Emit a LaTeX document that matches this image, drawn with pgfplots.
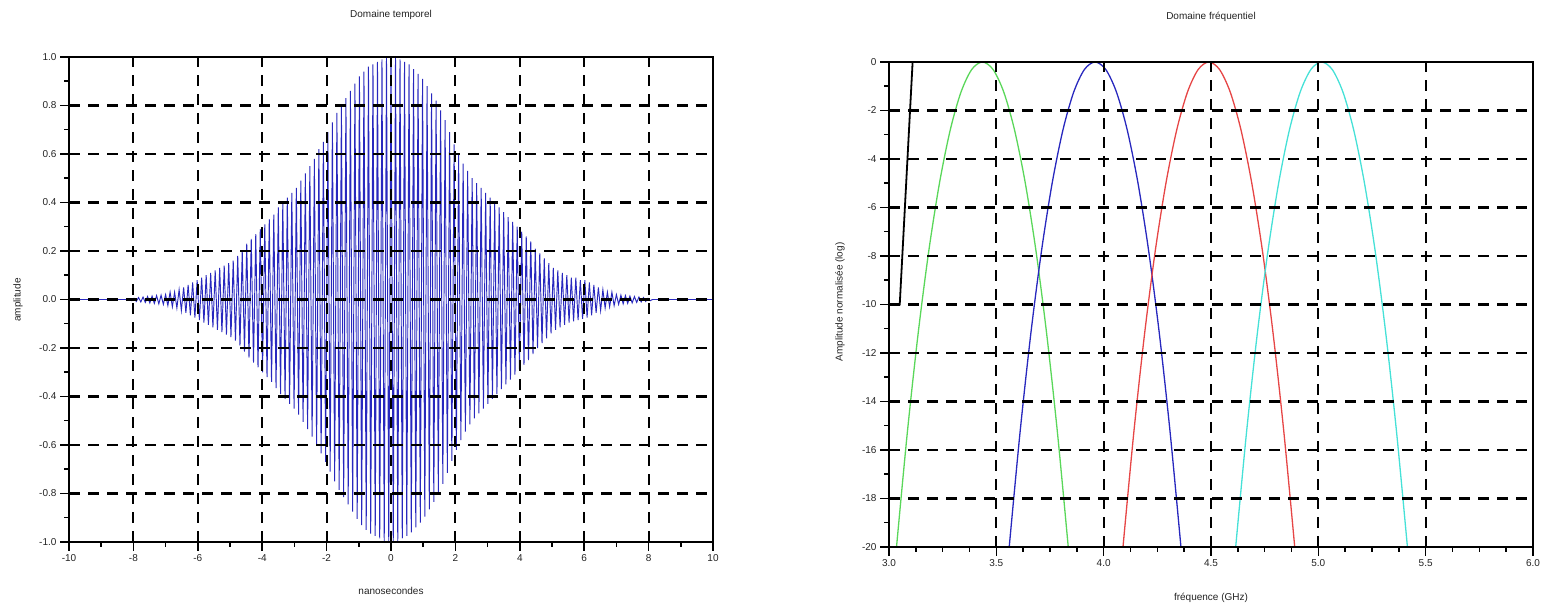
\documentclass[border=0pt]{standalone}
\usepackage{fontspec}
\setmainfont{Liberation Sans}
\usepackage{pgfplots}
\usepackage{pgfplotstable}
\pgfplotsset{compat=1.18}

\definecolor{sigblue}{RGB}{40,40,190}
\definecolor{cgreen}{RGB}{90,215,90}
\definecolor{cblue}{RGB}{40,40,190}
\definecolor{cred}{RGB}{230,70,70}
\definecolor{ccyan}{RGB}{70,225,215}
\definecolor{txt}{RGB}{35,35,35}

\pgfplotstableread{
t y
-10.00 0
-8.12 0
-8.05 -0.005
-7.98 0.005
-7.91 -0.008
-7.84 0.008
-7.77 -0.01
-7.70 0.01
-7.63 -0.012
-7.56 0.012
-7.49 -0.014
-7.42 0.014
-7.35 -0.016
-7.28 0.016
-7.21 -0.018
-7.14 0.018
-7.07 -0.02
-7.00 0.02
-6.93 -0.025
-6.86 0.03
-6.79 -0.03
-6.72 0.03
-6.65 -0.035
-6.58 0.04
-6.51 -0.045
-6.44 0.05
-6.37 -0.055
-6.30 0.06
-6.23 -0.065
-6.16 0.07
-6.09 -0.075
-6.02 0.08
-5.95 -0.085
-5.88 0.09
-5.81 -0.095
-5.74 0.10
-5.67 -0.105
-5.60 0.11
-5.53 -0.115
-5.46 0.12
-5.39 -0.125
-5.32 0.13
-5.25 -0.135
-5.18 0.14
-5.11 -0.145
-5.04 0.15
-4.97 -0.155
-4.90 0.16
-4.83 -0.17
-4.76 0.18
-4.69 -0.19
-4.62 0.20
-4.55 -0.215
-4.48 0.23
-4.41 -0.24
-4.34 0.25
-4.27 -0.26
-4.20 0.27
-4.13 -0.28
-4.06 0.29
-3.99 -0.30
-3.92 0.31
-3.85 -0.32
-3.78 0.33
-3.71 -0.34
-3.64 0.35
-3.57 -0.365
-3.50 0.38
-3.43 -0.39
-3.36 0.40
-3.29 -0.41
-3.22 0.42
-3.15 -0.43
-3.08 0.44
-3.01 -0.45
-2.94 0.46
-2.87 -0.475
-2.80 0.49
-2.73 -0.505
-2.66 0.52
-2.59 -0.535
-2.52 0.55
-2.45 -0.565
-2.38 0.58
-2.31 -0.60
-2.24 0.62
-2.17 -0.635
-2.10 0.65
-2.03 -0.67
-1.96 0.69
-1.89 -0.71
-1.82 0.73
-1.75 -0.75
-1.68 0.77
-1.61 -0.785
-1.54 0.80
-1.47 -0.815
-1.40 0.83
-1.33 -0.845
-1.26 0.86
-1.19 -0.875
-1.12 0.89
-1.05 -0.905
-0.98 0.92
-0.91 -0.93
-0.84 0.94
-0.77 -0.95
-0.70 0.96
-0.63 -0.965
-0.56 0.97
-0.49 -0.975
-0.42 0.98
-0.35 -0.985
-0.28 0.99
-0.21 -0.995
-0.14 1.00
-0.07 -1.00
0.00 1.00
0.07 -1.00
0.14 1.00
0.21 -0.995
0.28 0.99
0.35 -0.985
0.42 0.98
0.49 -0.975
0.56 0.97
0.63 -0.96
0.70 0.95
0.77 -0.94
0.84 0.93
0.91 -0.92
0.98 0.91
1.05 -0.895
1.12 0.88
1.19 -0.865
1.26 0.85
1.33 -0.835
1.40 0.82
1.47 -0.80
1.54 0.78
1.61 -0.76
1.68 0.74
1.75 -0.715
1.82 0.69
1.89 -0.665
1.96 0.64
2.03 -0.62
2.10 0.60
2.17 -0.58
2.24 0.56
2.31 -0.545
2.38 0.53
2.45 -0.515
2.52 0.50
2.59 -0.49
2.66 0.48
2.73 -0.47
2.80 0.46
2.87 -0.45
2.94 0.44
3.01 -0.43
3.08 0.42
3.15 -0.41
3.22 0.40
3.29 -0.39
3.36 0.38
3.43 -0.37
3.50 0.36
3.57 -0.35
3.64 0.34
3.71 -0.33
3.78 0.32
3.85 -0.31
3.92 0.30
3.99 -0.29
4.06 0.28
4.13 -0.27
4.20 0.26
4.27 -0.25
4.34 0.24
4.41 -0.225
4.48 0.21
4.55 -0.20
4.62 0.19
4.69 -0.18
4.76 0.17
4.83 -0.16
4.90 0.15
4.97 -0.14
5.04 0.13
5.11 -0.125
5.18 0.12
5.25 -0.115
5.32 0.11
5.39 -0.105
5.46 0.10
5.53 -0.095
5.60 0.09
5.67 -0.09
5.74 0.09
5.81 -0.085
5.88 0.08
5.95 -0.08
6.02 0.08
6.09 -0.075
6.16 0.07
6.23 -0.065
6.30 0.06
6.37 -0.055
6.44 0.05
6.51 -0.045
6.58 0.04
6.65 -0.035
6.72 0.03
6.79 -0.03
6.86 0.03
6.93 -0.025
7.00 0.02
7.07 -0.02
7.14 0.018
7.21 -0.018
7.28 0.016
7.35 -0.016
7.42 0.014
7.49 -0.014
7.56 0.012
7.63 -0.012
7.70 0.01
7.77 -0.01
7.84 0.008
7.91 -0.008
7.98 0.005
8.05 -0.005
8.12 0
10.00 0
}\signal

\pgfplotstableread{
f g
3.035 -20
3.085 -15.3125
3.135 -11.25
3.185 -7.8125
3.235 -5
3.285 -2.8125
3.335 -1.25
3.385 -0.3125
3.435 0
3.485 -0.3125
3.535 -1.25
3.585 -2.8125
3.635 -5
3.685 -7.8125
3.735 -11.25
3.785 -15.3125
3.835 -20
}\green

\pgfplotstableread{
f g
3.56 -20
3.61 -15.3125
3.66 -11.25
3.71 -7.8125
3.76 -5
3.81 -2.8125
3.86 -1.25
3.91 -0.3125
3.96 0
4.01 -0.3125
4.06 -1.25
4.11 -2.8125
4.16 -5
4.21 -7.8125
4.26 -11.25
4.31 -15.3125
4.36 -20
}\blue

\pgfplotstableread{
f g
4.09 -20
4.14 -15.3125
4.19 -11.25
4.24 -7.8125
4.29 -5
4.34 -2.8125
4.39 -1.25
4.44 -0.3125
4.49 0
4.54 -0.3125
4.59 -1.25
4.64 -2.8125
4.69 -5
4.74 -7.8125
4.79 -11.25
4.84 -15.3125
4.89 -20
}\red

\pgfplotstableread{
f g
4.615 -20
4.665 -15.3125
4.715 -11.25
4.765 -7.8125
4.815 -5
4.865 -2.8125
4.915 -1.25
4.965 -0.3125
5.015 0
5.065 -0.3125
5.115 -1.25
5.165 -2.8125
5.215 -5
5.265 -7.8125
5.315 -11.25
5.365 -15.3125
5.415 -20
}\cyan

\pgfplotstableread{
f g
3.00 -10
3.05 -10
3.11 0
6.00 0
}\black

\pgfplotsset{
  myax/.style={
    scale only axis, width=644pt, height=485pt,
    axis line style={line width=1.8pt, black},
    tick style={line width=1.5pt, black},
    tick align=outside, tick pos=left,
    major tick length=9pt, minor tick length=5pt,
    grid=major,
    major grid style={black, line width=2.1pt, dash pattern=on 11pt off 8pt},
    axis on top, clip=false,
    tick label style={font=\fontsize{10}{11}\selectfont, text=txt},
    /pgf/number format/assume math mode=true,
  }
}

\begin{document}
\begin{tikzpicture}
\useasboundingbox (0,0) rectangle (1543pt,607pt);

\begin{axis}[myax, at={(69pt,65pt)}, anchor=south west,
  xmin=-10, xmax=10, ymin=-1, ymax=1,
  xtick={-10,-8,-6,-4,-2,0,2,4,6,8,10},
  ytick={-1,-0.8,-0.6,-0.4,-0.2,0,0.2,0.4,0.6,0.8,1},
  minor x tick num=1, minor y tick num=1,
  yticklabel style={/pgf/number format/.cd, fixed, fixed zerofill, precision=1},
]
\addplot[sigblue, line width=0.95pt] table[x=t, y=y] {\signal};
\end{axis}

\begin{axis}[myax, at={(889pt,60pt)}, anchor=south west,
  xmin=3, xmax=6, ymin=-20, ymax=0,
  xtick={3,3.5,4,4.5,5,5.5,6},
  ytick={-20,-18,-16,-14,-12,-10,-8,-6,-4,-2,0},
  minor x tick num=3, minor y tick num=1,
  xticklabel style={/pgf/number format/.cd, fixed, fixed zerofill, precision=1},
]
\addplot[cgreen, line width=1.3pt, smooth] table[x=f, y=g] {\green};
\addplot[cblue, line width=1.3pt, smooth] table[x=f, y=g] {\blue};
\addplot[cred, line width=1.3pt, smooth] table[x=f, y=g] {\red};
\addplot[ccyan, line width=1.3pt, smooth] table[x=f, y=g] {\cyan};
\addplot[black, line width=1.8pt] table[x=f, y=g] {\black};
\end{axis}

\begin{scope}[every node/.style={font=\fontsize{10}{11}\selectfont, text=txt, inner sep=0pt}]
\node at (391pt,592pt) {Domaine temporel};
\node at (1211pt,590pt) {Domaine fréquentiel};
\node at (391pt,16pt) {nanosecondes};
\node at (1211pt,9pt) {fréquence (GHz)};
\node[rotate=90] at (18pt,307pt) {amplitude};
\node[rotate=90] at (840pt,305pt) {Amplitude normalisée (log)};
\end{scope}
\end{tikzpicture}
\end{document}
